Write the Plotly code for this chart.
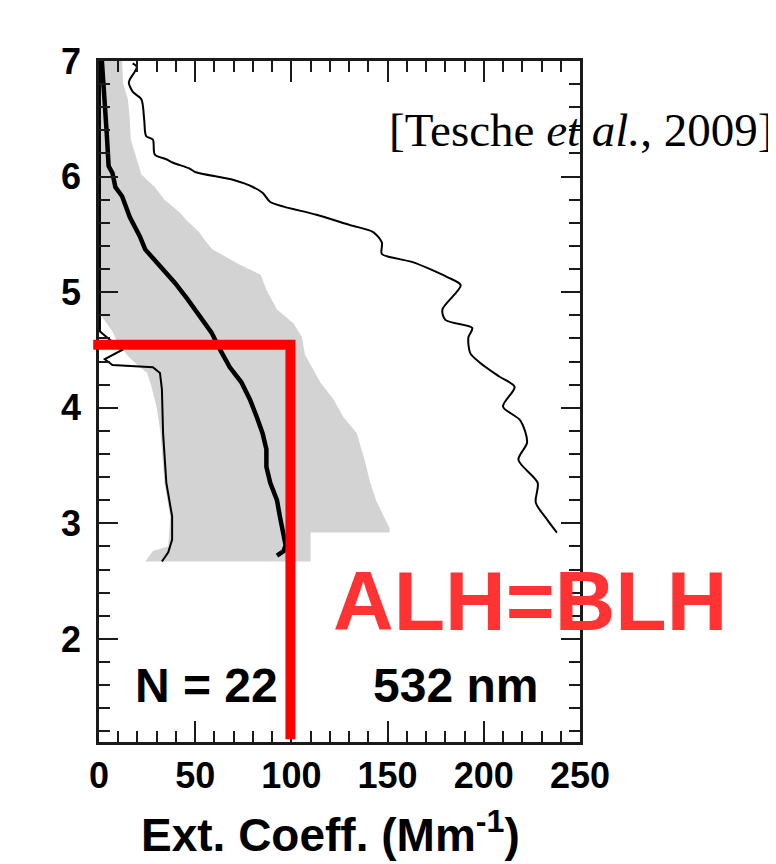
import plotly.graph_objects as go

# ---------------- data ----------------
# Mean extinction profile (thick line): altitude km, Mm^-1
mean_alt = [7.0, 6.67, 6.38, 6.09, 6.03, 5.91, 5.83, 5.65, 5.52, 5.48, 5.37, 5.22, 5.08, 4.94,
            4.79, 4.65, 4.50, 4.35, 4.22, 4.07, 3.92, 3.78, 3.64, 3.49, 3.35, 3.20, 3.06, 2.92,
            2.81, 2.76, 2.72]
mean_ext = [1.5, 3.0, 4.0, 5.0, 7.0, 8.5, 12.0, 16.0, 20.0, 21.3, 24.0, 32.0, 39.5, 46.0,
            52.5, 58.5, 63.0, 68.0, 74.0, 78.5, 82.0, 85.0, 87.0, 87.0, 89.0, 92.5, 94.0, 96.0,
            97.0, 96.0, 92.5]

# Maximum profile (thin right line)
max_alt = [6.98, 6.95, 6.91, 6.84, 6.81, 6.73, 6.67, 6.49, 6.35, 6.32, 6.19, 6.15, 6.12, 6.07,
           6.04, 5.97, 5.91, 5.86, 5.78, 5.74, 5.67, 5.58, 5.52, 5.43, 5.33, 5.29, 5.26, 5.13,
           5.06, 4.85, 4.76, 4.69, 4.61, 4.47, 4.39, 4.27, 4.18, 4.01, 3.89, 3.70, 3.55, 3.35,
           3.18, 3.03, 2.92]
max_ext = [17.5, 19.7, 18.7, 16.0, 15.5, 17.7, 22.0, 23.5, 24.5, 28.0, 29.0, 35.0, 38.5, 47.0,
           50.0, 70.0, 80.0, 85.0, 89.0, 96.0, 113.0, 130.5, 142.5, 147.0, 147.0, 155.0, 163.0, 181.0,
           188.0, 178.5, 180.0, 194.0, 192.0, 193.0, 198.0, 208.0, 216.0, 210.0, 219.0, 222.5, 218.0, 228.0,
           227.0, 233.0, 238.0]

# Minimum profile (thin left line)
min_alt = [7.0, 4.89, 4.66, 4.50, 4.42, 4.37, 4.35, 4.30, 4.16, 3.78, 3.35, 3.06, 2.86, 2.75, 2.67]
min_ext = [0.5, 0.5, 0.5, 12.0, 3.0, 7.0, 28.0, 31.7, 32.7, 33.3, 35.0, 38.0, 38.0, 36.0, 32.7]

# Shaded variability band: upper (right) edge, top -> bottom
band_hi_alt = [7.0, 6.81, 6.67, 6.50, 6.32, 6.15, 6.02, 5.97, 5.91, 5.80, 5.69, 5.63, 5.52, 5.45,
               5.37, 5.24, 5.15, 5.02, 4.85, 4.73, 4.61, 4.46, 4.22, 4.07, 3.92, 3.78, 3.55, 3.35,
               3.20, 3.06, 2.96, 2.92, 2.92, 2.67]
band_hi_ext = [12.0, 12.5, 15.0, 16.0, 16.5, 19.7, 22.0, 25.0, 29.0, 34.0, 42.0, 45.0, 52.0, 55.0,
               59.0, 73.0, 84.0, 87.0, 92.5, 101.0, 105.5, 107.0, 115.0, 122.0, 127.0, 134.0, 138.0, 141.0,
               144.0, 148.0, 151.0, 151.0, 110.0, 110.0]
# lower (left) edge, bottom -> top
band_lo_alt = [2.67, 2.76, 2.80, 3.06, 3.35, 3.78, 4.00, 4.20, 4.30, 4.37, 4.43, 4.55, 4.66, 4.80, 4.89, 7.0]
band_lo_ext = [24.0, 28.0, 36.0, 37.0, 34.0, 32.0, 30.0, 27.0, 25.0, 20.0, 16.0, 10.0, 7.0, 1.0, 0.0, 0.0]

# Aerosol layer height = boundary layer height marker
alh_km = 4.545
blh_ext = 99.5
marker_left_ext = -3.0

x_ticks = [0, 50, 100, 150, 200, 250]
y_ticks = [2, 3, 4, 5, 6, 7]
x_range = [0, 250]
y_range = [1.108, 7.0]

# ---------------- figure ----------------
# page body has an 8px margin, so the figure is 8px smaller and margins shifted by 8
OFF = 8
W, H = 776 - OFF, 864 - OFF
L, T = 99 - OFF, 61 - OFF
pw, ph = 481, 681
R, B = W - L - pw, H - T - ph

fig = go.Figure()

fig.add_trace(go.Scatter(
    x=band_hi_ext + band_lo_ext, y=band_hi_alt + band_lo_alt,
    fill="toself", fillcolor="#d3d3d3", mode="lines", line=dict(width=0),
    hoverinfo="skip", showlegend=False))

fig.add_trace(go.Scatter(x=min_ext, y=min_alt, mode="lines",
                         line=dict(color="black", width=2), showlegend=False))
fig.add_trace(go.Scatter(x=max_ext, y=max_alt, mode="lines",
                         line=dict(color="black", width=2, shape="spline", smoothing=0.8),
                         showlegend=False))
fig.add_trace(go.Scatter(x=mean_ext, y=mean_alt, mode="lines",
                         line=dict(color="black", width=4.5), showlegend=False))


def px(v):
    return (v - x_range[0]) / (x_range[1] - x_range[0])


def py(v):
    return (v - y_range[0]) / (y_range[1] - y_range[0])


# red ALH/BLH marker (paper coords so it can poke out past the axis)
fig.add_shape(type="path", xref="paper", yref="paper",
              path=f"M {px(marker_left_ext)},{py(alh_km)} L {px(blh_ext)},{py(alh_km)} L {px(blh_ext)},{py(y_range[0]) + 0.004}",
              line=dict(color="#ff0000", width=10), layer="above")

font_family = "Liberation Sans, Arial, Helvetica, sans-serif"

fig.add_annotation(x=56, y=1.60, xref="x", yref="y", text="N = 22", showarrow=False,
                   font=dict(family=font_family, size=48, color="black", weight="bold"))
fig.add_annotation(x=185.5, y=1.60, xref="x", yref="y", text="532 nm", showarrow=False,
                   font=dict(family=font_family, size=48, color="black", weight="bold"))
fig.add_annotation(x=(530 - 99) / pw, y=(742 - 601) / ph, xref="paper", yref="paper",
                   text="ALH=BLH", showarrow=False,
                   font=dict(family=font_family, size=84, color="#ff3333", weight="bold"),
                   xanchor="center", yanchor="middle")
fig.add_annotation(x=(775 - 99) / pw, y=(742 - 130) / ph, xref="paper", yref="paper",
                   text="[Tesche <i>et al.</i>, 2009]", showarrow=False,
                   font=dict(family="Liberation Serif, Times New Roman, serif", size=47, color="black"),
                   xanchor="right", yanchor="middle")
fig.add_annotation(x=(330 - 99) / pw, y=-(832 - 742) / ph, xref="paper", yref="paper",
                   text="Ext. Coeff. (Mm<sup>-1</sup>)", showarrow=False,
                   font=dict(family=font_family, size=46, color="black", weight="bold"),
                   xanchor="center", yanchor="middle")

axis_common = dict(showline=True, linecolor="#1a1a1a", linewidth=2.5, mirror="ticks",
                   ticks="inside", tickcolor="#1a1a1a", tickwidth=2, showgrid=False,
                   zeroline=False,
                   tickfont=dict(family=font_family, size=36, color="black", weight="bold"))

fig.update_xaxes(range=x_range, tickvals=x_ticks, ticklen=21, ticklabelstandoff=0,
                 minor=dict(dtick=10, tick0=0, ticks="inside", ticklen=11, tickwidth=2,
                            tickcolor="#1a1a1a"),
                 **axis_common)
fig.update_yaxes(range=y_range, tickvals=y_ticks, ticklen=19, ticklabelstandoff=8,
                 minor=dict(dtick=0.2, tick0=0, ticks="inside", ticklen=11, tickwidth=2,
                            tickcolor="#1a1a1a"),
                 **axis_common)

fig.update_layout(width=W, height=H, margin=dict(l=L, r=R, t=T, b=B, autoexpand=False),
                  plot_bgcolor="white", paper_bgcolor="white", showlegend=False)

fig.write_html("out.html")
